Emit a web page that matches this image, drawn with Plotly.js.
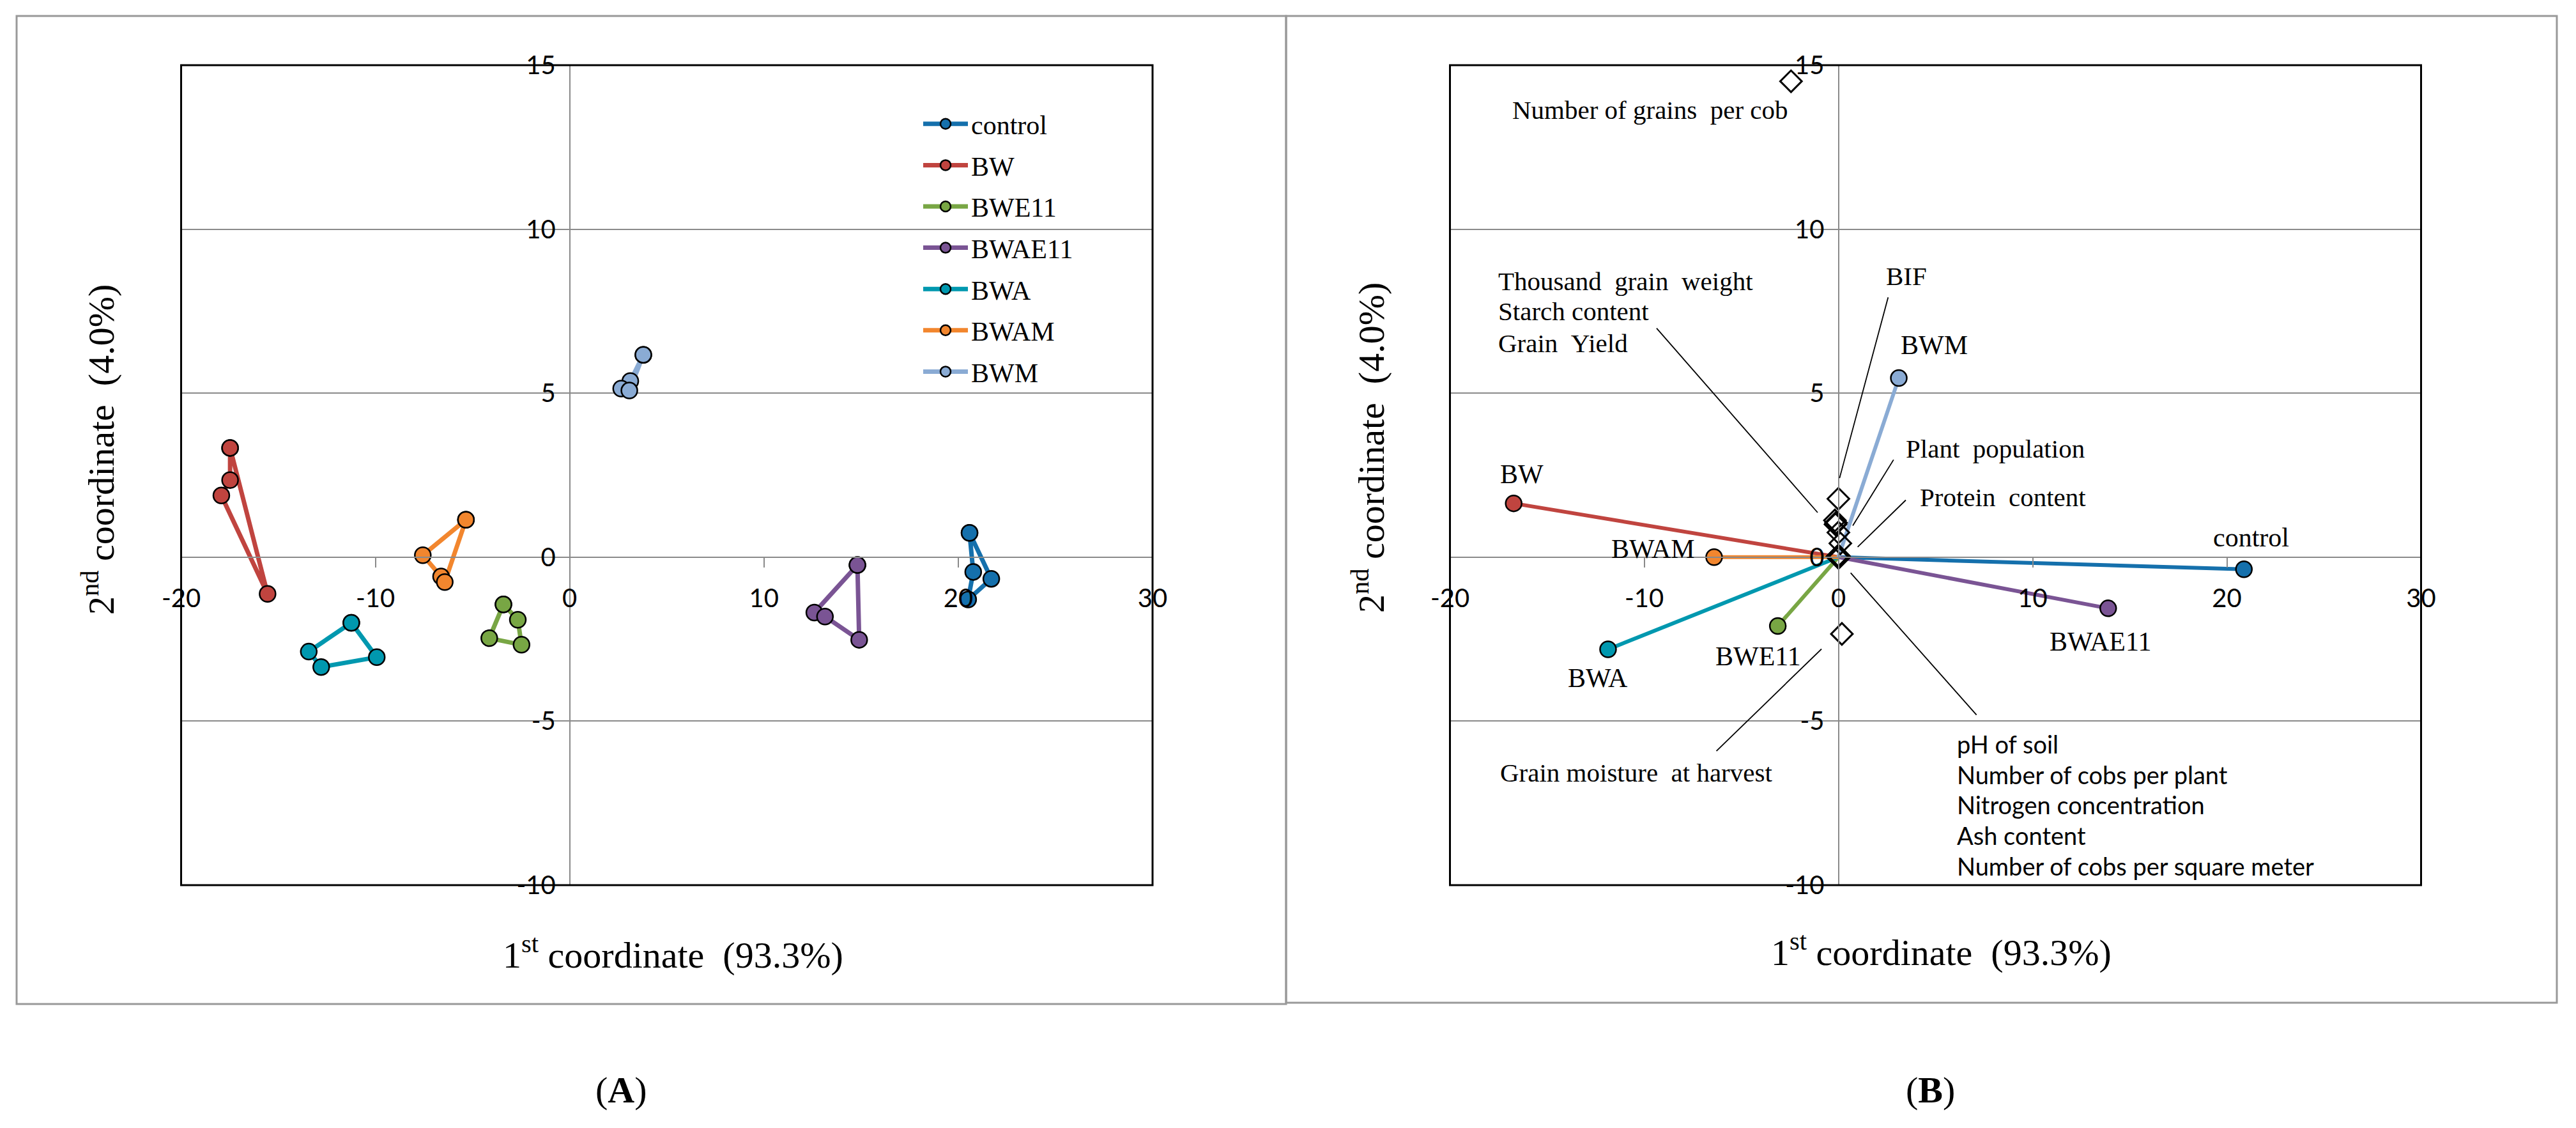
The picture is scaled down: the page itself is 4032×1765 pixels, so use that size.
<!DOCTYPE html>
<html><head><meta charset="utf-8">
<script src="https://cdn.plot.ly/plotly-3.0.1.min.js"></script>
<style>html,body{margin:0;padding:0;background:#fff;}#chart{width:4032px;height:1765px;}</style>
</head><body><div id="chart"></div>
<script>
// ---------------- DATA ----------------
const groups = ["control", "BW", "BWE11", "BWAE11", "BWA", "BWAM", "BWM"];

// Panel A: replicate scores per treatment (polygon order, first point repeated to close)
const controlX = [20.58, 20.77, 20.51, 21.70, 20.58];
const controlY = [0.74, -0.45, -1.29, -0.66, 0.74];
const bwX = [-17.48, -17.48, -17.93, -15.55, -17.48];
const bwY = [3.33, 2.35, 1.88, -1.12, 3.33];
const bwe11X = [-3.41, -4.14, -2.48, -2.67, -3.41];
const bwe11Y = [-1.44, -2.47, -2.67, -1.91, -1.44];
const bwae11X = [14.81, 12.59, 13.14, 14.90, 14.81];
const bwae11Y = [-0.24, -1.69, -1.81, -2.52, -0.24];
const bwaX = [-11.24, -13.43, -12.79, -9.93, -11.24];
const bwaY = [-2.00, -2.88, -3.35, -3.05, -2.00];
const bwamX = [-5.34, -7.56, -6.62, -6.43, -5.34];
const bwamY = [1.14, 0.06, -0.59, -0.76, 1.14];
const bwmX = [3.79, 3.12, 2.65, 3.07, 3.79];
const bwmY = [6.17, 5.37, 5.14, 5.08, 6.17];

// Panel B: treatment centroids
const centroidX = [20.88, -16.72, -3.12, 13.89, -11.86, -6.40, 3.11];
const centroidY = [-0.37, 1.64, -2.10, -1.56, -2.81, 0.00, 5.46];

// Panel B: variables
const varNames = ["Number of grains per cob", "BIF", "Thousand grain weight", "Starch content", "Grain Yield",
  "Plant population", "Protein content", "pH of soil", "Number of cobs per plant", "Nitrogen concentration",
  "Ash content", "Number of cobs per square meter", "Grain moisture at harvest"];
const varX = [-2.44, 0.00, -0.18, -0.12, -0.15, 0.00, 0.10, 0.00, 0.05, -0.05, 0.00, 0.03, 0.18];
const varY = [14.51, 1.78, 1.12, 1.05, 1.00, 0.75, 0.42, 0.05, 0.00, 0.02, -0.02, 0.03, -2.34];

// Axis ticks
const xTickVals = [-20, -10, 0, 10, 20, 30];
const xTickText = ["-20", "-10", "0", "10", "20", "30"];
const yTickVals = [-10, -5, 0, 5, 10, 15];
const yTickText = ["-10", "-5", "0", "5", "10", "15"];

// ---------------- STYLE / LAYOUT ----------------
const colors = ["#1570AC", "#C0443F", "#78A644", "#7A5494", "#0098AF", "#F2862E", "#8AABD4"];
const groupsX = [controlX, bwX, bwe11X, bwae11X, bwaX, bwamX, bwmX];
const groupsY = [controlY, bwY, bwe11Y, bwae11Y, bwaY, bwamY, bwmY];

const W = 4032, H = 1765;
const px = v => v / W;
const py = v => 1 - v / H;
const SERIF = "Liberation Serif, Times New Roman, serif";
const SANS = "Lato, Liberation Sans, sans-serif";
const serifFont = s => ({ family: SERIF, size: s, color: "#000" });
const sansFont = s => ({ family: SANS, size: s, color: "#000" });
const gray = "#8a8a8a";

const yDomain = [py(1385), py(102)];
const xDomainA = [px(283.5), px(1804)];
const xDomainB = [px(2269.5), px(3789.5)];
const yZero = yDomain[0] + 0.4 * (yDomain[1] - yDomain[0]);
const xZeroA = xDomainA[0] + 0.4 * (xDomainA[1] - xDomainA[0]);
const xZeroB = xDomainB[0] + 0.4 * (xDomainB[1] - xDomainB[0]);

function xAxis(domain) {
  return { domain: domain, range: [-20, 30], anchor: "free", position: yZero,
    showline: true, linecolor: gray, linewidth: 2.5, showgrid: false, zeroline: false,
    ticks: "outside", ticklen: 15, tickwidth: 2, tickcolor: gray, ticklabelstandoff: 14,
    tickmode: "array", tickvals: xTickVals, ticktext: xTickText,
    tickfont: sansFont(40), fixedrange: true };
}
function yAxis(pos) {
  return { domain: yDomain, range: [-10, 15], anchor: "free", position: pos,
    showline: true, linecolor: gray, linewidth: 2.5, showgrid: true, gridcolor: gray, gridwidth: 2,
    zeroline: false, ticks: "outside", ticklen: 13, tickwidth: 2, tickcolor: gray,
    tickmode: "array", tickvals: yTickVals, ticktext: yTickText,
    tickfont: sansFont(40), fixedrange: true };
}

const traces = [];
// Panel A
groups.forEach((g, i) => {
  traces.push({ type: "scatter", mode: "lines+markers", name: g, legendgroup: g, x: groupsX[i], y: groupsY[i],
    xaxis: "x", yaxis: "y", line: { color: colors[i], width: 7 },
    marker: { size: 25, color: colors[i], line: { color: "#000", width: 2.5 } } });
});
// Panel B rays
groups.forEach((g, i) => {
  traces.push({ type: "scatter", mode: "lines", name: g, x: [0, centroidX[i]], y: [0, centroidY[i]],
    xaxis: "x2", yaxis: "y2", line: { color: colors[i], width: 6 }, showlegend: false });
});
traces.push({ type: "scatter", mode: "markers", name: "centroids", x: centroidX, y: centroidY,
  xaxis: "x2", yaxis: "y2", showlegend: false,
  marker: { size: 25, color: colors, line: { color: "#000", width: 2.5 } } });
traces.push({ type: "scatter", mode: "markers", name: "variables", x: varX, y: varY, text: varNames,
  xaxis: "x2", yaxis: "y2", showlegend: false,
  marker: { symbol: "diamond-open", size: 26, color: "#000", line: { color: "#000", width: 3 } } });

// label offsets (px) for treatment labels in panel B
const treatLabelShift = [[-50, 50], [-23, 46], [-100, -47], [-94, -52], [-65, -45], [-163, 13], [1, 52]];

const annotations = [];
groups.forEach((g, i) => {
  annotations.push({ xref: "x2", yref: "y2", x: centroidX[i], y: centroidY[i], text: g, showarrow: false,
    xanchor: "left", yanchor: "middle", xshift: treatLabelShift[i][0], yshift: treatLabelShift[i][1],
    font: serifFont(42) });
});
const varLabels = [
  { t: "Number of grains  per cob", x: -16.85, y: 13.64, s: false },
  { t: "Thousand  grain  weight", x: -17.58, y: 8.42, s: false },
  { t: "Starch content", x: -17.58, y: 7.49, s: false },
  { t: "Grain  Yield", x: -17.58, y: 6.53, s: false },
  { t: "BIF", x: 2.38, y: 8.57, s: false },
  { t: "Plant  population", x: 3.42, y: 3.31, s: false },
  { t: "Protein  content", x: 4.12, y: 1.83, s: false },
  { t: "Grain moisture  at harvest", x: -17.48, y: -6.57, s: false },
  { t: "pH of soil", x: 6.02, y: -5.69, s: true },
  { t: "Number of cobs per plant", x: 6.02, y: -6.62, s: true },
  { t: "Nitrogen concentration", x: 6.02, y: -7.55, s: true },
  { t: "Ash content", x: 6.02, y: -8.48, s: true },
  { t: "Number of cobs per square meter", x: 6.02, y: -9.41, s: true }
];
varLabels.forEach(l => {
  annotations.push({ xref: "x2", yref: "y2", x: l.x, y: l.y, text: l.t.replace(/  /g, " \u00a0"), showarrow: false,
    xanchor: "left", yanchor: "middle", font: l.s ? sansFont(38) : serifFont(41) });
});
// axis titles and panel captions
[[1053, 1490, 154, 704], [3038, 1486, 2142, 701]].forEach(p => {
  annotations.push({ xref: "paper", yref: "paper", x: px(p[0]), y: py(p[1]), showarrow: false,
    text: "1<sup>st</sup> coordinate \u00a0(93.3%)", font: serifFont(58), xanchor: "center", yanchor: "middle" });
  annotations.push({ xref: "paper", yref: "paper", x: px(p[2]), y: py(p[3]), showarrow: false, textangle: -90,
    text: "2<sup>nd</sup> coordinate \u00a0(4.0%)", font: serifFont(58), xanchor: "center", yanchor: "middle" });
});
annotations.push({ xref: "paper", yref: "paper", x: px(972), y: py(1705), showarrow: false,
  xanchor: "center", yanchor: "middle", text: "(<b>A</b>)", font: serifFont(58) });
annotations.push({ xref: "paper", yref: "paper", x: px(3021), y: py(1705), showarrow: false,
  xanchor: "center", yanchor: "middle", text: "(<b>B</b>)", font: serifFont(58) });

// leader lines (data units, panel B)
const leaders = [
  [2.56, 7.92, 0.06, 2.41], [-9.36, 6.98, -1.07, 1.36], [2.84, 2.97, 0.74, 0.96],
  [3.47, 1.74, 0.99, 0.31], [7.11, -4.81, 0.63, -0.48], [-6.28, -5.91, -0.87, -2.80]
];
const shapes = [
  { type: "rect", xref: "paper", yref: "paper", x0: px(26), x1: px(2013), y0: py(1571), y1: py(25),
    line: { color: "#999", width: 3 }, layer: "below" },
  { type: "rect", xref: "paper", yref: "paper", x0: px(2013), x1: px(4002), y0: py(1569), y1: py(25),
    line: { color: "#999", width: 3 }, layer: "below" },
  { type: "rect", xref: "x domain", yref: "y domain", x0: 0, x1: 1, y0: 0, y1: 1,
    line: { color: "#000", width: 3 }, layer: "above" },
  { type: "rect", xref: "x2 domain", yref: "y2 domain", x0: 0, x1: 1, y0: 0, y1: 1,
    line: { color: "#000", width: 3 }, layer: "above" }
];
leaders.forEach(l => shapes.push({ type: "line", xref: "x2", yref: "y2", x0: l[0], y0: l[1], x1: l[2], y1: l[3],
  line: { color: "#000", width: 1.8 }, layer: "above" }));

const layout = {
  width: W, height: H, margin: { l: 0, r: 0, t: 0, b: 0, pad: 0 },
  paper_bgcolor: "#fff", plot_bgcolor: "rgba(0,0,0,0)",
  xaxis: xAxis(xDomainA), yaxis: yAxis(xZeroA),
  xaxis2: xAxis(xDomainB), yaxis2: yAxis(xZeroB),
  showlegend: true,
  legend: { x: px(1440), y: py(160), xanchor: "left", yanchor: "top", bgcolor: "rgba(0,0,0,0)",
    borderwidth: 0, itemwidth: 70, itemsizing: "trace", tracegroupgap: 7, font: serifFont(42) },
  hovermode: false, annotations: annotations, shapes: shapes
};
Plotly.newPlot("chart", traces, layout, { staticPlot: true, displayModeBar: false });
</script></body></html>
